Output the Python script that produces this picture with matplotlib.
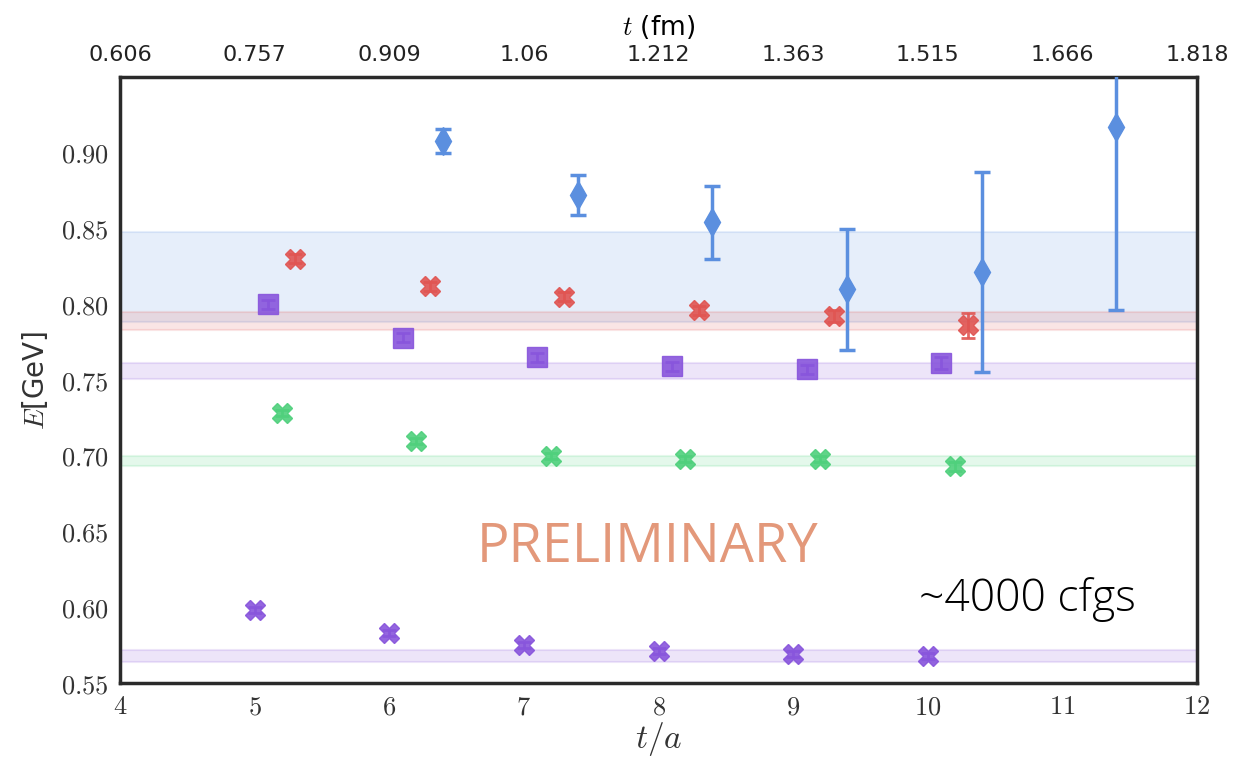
import numpy as np
import matplotlib
matplotlib.use('Agg')
import matplotlib.pyplot as plt
from matplotlib.ticker import FuncFormatter

plt.rcParams['mathtext.fontset'] = 'cm'
plt.rcParams['font.family'] = 'DejaVu Sans'

# blue diamonds
t_blue = [6.4, 7.4, 8.4, 9.4, 10.4, 11.4]
E_blue = [0.908, 0.872, 0.854, 0.810, 0.821, 0.917]
err_blue = [0.008, 0.013, 0.024, 0.040, 0.066, 0.121]

# red crosses
t_red = [5.3, 6.3, 7.3, 8.3, 9.3, 10.3]
E_red = [0.830, 0.812, 0.805, 0.796, 0.792, 0.786]
err_red = [0.003, 0.003, 0.003, 0.003, 0.004, 0.008]

# purple squares
t_sq = [5.1, 6.1, 7.1, 8.1, 9.1, 10.1]
E_sq = [0.800, 0.778, 0.765, 0.759, 0.757, 0.761]
err_sq = [0.003, 0.003, 0.003, 0.003, 0.003, 0.004]

# green crosses
t_green = [5.2, 6.2, 7.2, 8.2, 9.2, 10.2]
E_green = [0.728, 0.710, 0.700, 0.698, 0.698, 0.693]
err_green = [0.002, 0.002, 0.002, 0.002, 0.002, 0.003]

# purple crosses
t_purp = [5, 6, 7, 8, 9, 10]
E_purp = [0.598, 0.583, 0.575, 0.571, 0.569, 0.568]
err_purp = [0.002, 0.002, 0.002, 0.002, 0.002, 0.002]

# fit bands (low, high)
band_blue = (0.788, 0.848)
band_red = (0.783, 0.795)
band_sq = (0.751, 0.761)
band_green = (0.693, 0.700)
band_purp = (0.564, 0.5717)

top_labels = ['0.606', '0.757', '0.909', '1.06', '1.212', '1.363', '1.515', '1.666', '1.818']

c_blue = '#5b8fdf'
c_red = '#e05552'
c_purple = '#8855dc'
c_green = '#4fd07c'

fig = plt.figure(figsize=(12.53, 7.58), dpi=100)
ax = fig.add_axes([0.0958, 0.0989, 0.8595, 0.7995])

xs = [4, 12]
for (lo, hi), c in [(band_blue, c_blue), (band_red, c_red), (band_sq, c_purple),
                    (band_green, c_green), (band_purp, c_purple)]:
    ax.fill_between(xs, lo, hi, color=c, alpha=0.15, lw=0, zorder=1)
    ax.plot(xs, [lo, lo], color=c, alpha=0.15, lw=1.5, zorder=1)
    ax.plot(xs, [hi, hi], color=c, alpha=0.15, lw=1.5, zorder=1)

ax.errorbar(t_blue, E_blue, yerr=err_blue, fmt='d', color=c_blue, ms=14,
            elinewidth=2.5, capsize=6, capthick=2.5, zorder=3)
ax.errorbar(t_red, E_red, yerr=err_red, fmt='X', color=c_red, ms=14, alpha=0.9,
            elinewidth=2, capsize=5, capthick=2, zorder=3)
ax.errorbar(t_sq, E_sq, yerr=err_sq, fmt='s', color=c_purple, ms=14, alpha=0.9,
            elinewidth=2, capsize=5, capthick=2, zorder=3)
ax.errorbar(t_green, E_green, yerr=err_green, fmt='X', color=c_green, ms=14, alpha=0.9,
            elinewidth=2, capsize=5, capthick=2, zorder=3)
ax.errorbar(t_purp, E_purp, yerr=err_purp, fmt='X', color=c_purple, ms=14, alpha=0.9,
            elinewidth=2, capsize=5, capthick=2, zorder=3)

ax.set_xlim(4, 12)
ax.set_ylim(0.55, 0.95)
ax.set_xticks(range(4, 13))
ax.set_yticks(np.arange(0.55, 0.901, 0.05))
ax.xaxis.set_major_formatter(FuncFormatter(lambda v, p: r'$%d$' % v))
ax.yaxis.set_major_formatter(FuncFormatter(lambda v, p: r'$%.2f$' % v))
ax.tick_params(length=0, labelsize=19, colors='#333333', pad=8)

for s in ax.spines.values():
    s.set_linewidth(2.5)
    s.set_color('#2a2a2a')

ax.set_xlabel(r'$t/a$', fontsize=24, color='#333333', labelpad=0)
ax.set_ylabel(r'$E$[GeV]', fontsize=20, color='#333333', labelpad=8)

ax2 = ax.twiny()
ax2.set_xlim(4, 12)
ax2.set_xticks(range(4, 13))
ax2.set_xticklabels(top_labels)
ax2.tick_params(length=0, labelsize=16, colors='#222222', pad=9)
ax2.set_xlabel(r'$t$ (fm)', fontsize=19, labelpad=7)
for s in ax2.spines.values():
    s.set_visible(False)

ax.text(0.49, 0.223, 'PRELIMINARY', transform=ax.transAxes, ha='center', va='center',
        fontsize=39, color='#e3987a', family='Open Sans')
ax.text(0.742, 0.137, '~4000 cfgs', transform=ax.transAxes, ha='left', va='center',
        fontsize=32, color='black', family='Open Sans', weight='light')

fig.savefig('out.png', dpi=100)
